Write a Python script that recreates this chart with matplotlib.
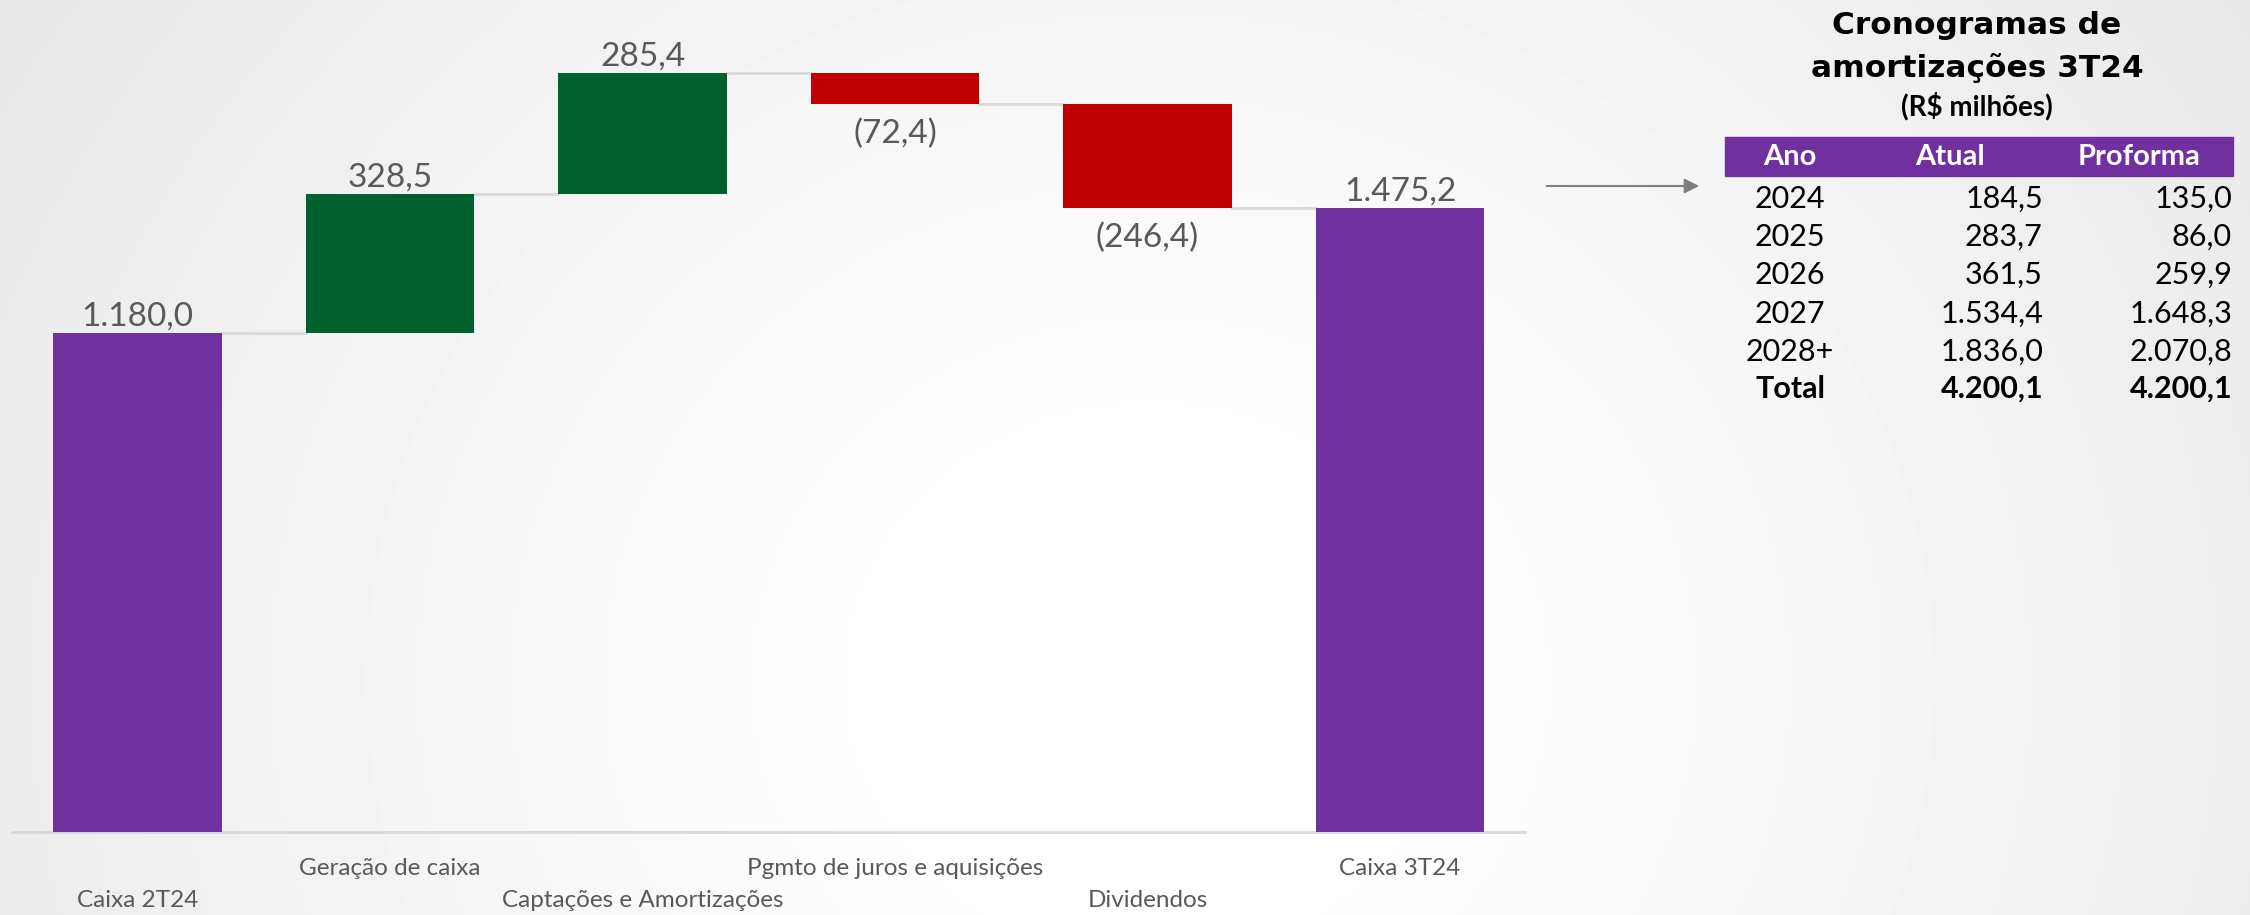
import numpy as np
import matplotlib
matplotlib.use('Agg')
import matplotlib.pyplot as plt
from matplotlib.patches import Rectangle, FancyArrowPatch

# Waterfall data (R$ milhões)
categories = ['Caixa 2T24', 'Geração de caixa', 'Captações e Amortizações',
              'Pgmto de juros e aquisições', 'Dividendos', 'Caixa 3T24']
values = [1180.0, 328.5, 285.4, -72.4, -246.4, 1475.2]
kinds = ['total', 'delta', 'delta', 'delta', 'delta', 'total']
value_labels = ['1.180,0', '328,5', '285,4', '(72,4)', '(246,4)', '1.475,2']

# Amortization schedule table
table_years = ['2024', '2025', '2026', '2027', '2028+', 'Total']
table_atual = ['184,5', '283,7', '361,5', '1.534,4', '1.836,0', '4.200,1']
table_proforma = ['135,0', '86,0', '259,9', '1.648,3', '2.070,8', '4.200,1']

PURPLE = '#7030A0'
GREEN = '#00612E'
RED = '#C00000'
GREY_TXT = '#595959'

plt.rcParams['font.family'] = ['Lato', 'DejaVu Sans']

W, H = 2250, 915
fig = plt.figure(figsize=(W / 100, H / 100), dpi=100)

# background: soft radial grey gradient
bg = fig.add_axes([0, 0, 1, 1], zorder=-10)
yy, xx = np.mgrid[0:H, 0:W]
d = np.hypot(xx - 1150, (yy - 680) * 1.1)
shade = np.clip(255 - 0.0209 * np.clip(d - 260, 0, None), 0, 255) / 255
bg.imshow(shade, cmap='gray', vmin=0, vmax=1, aspect='auto', extent=[0, W, H, 0])
bg.axis('off')


def fx(px):
    return px / W


def fy(py):
    return 1 - py / H


# waterfall axes
ax = fig.add_axes([fx(11.5), fy(832), fx(1525) - fx(11.5), fy(40) - fy(832)])
ax.patch.set_alpha(0)

bottoms, heights, colors, levels = [], [], [], []
running = 0.0
for v, k in zip(values, kinds):
    if k == 'total':
        bottoms.append(0)
        heights.append(v)
        colors.append(PURPLE)
        running = v
    else:
        if v >= 0:
            bottoms.append(running)
            colors.append(GREEN)
        else:
            bottoms.append(running + v)
            colors.append(RED)
        heights.append(abs(v))
        running += v
    levels.append(running)

x = np.arange(len(values))
bw = 0.669
ax.bar(x, heights, bottom=bottoms, width=bw, color=colors, zorder=3)

# connectors
for i in range(len(values) - 1):
    ax.plot([x[i] + bw / 2, x[i + 1] - bw / 2], [levels[i], levels[i]],
            color='#d9d9d9', lw=2, zorder=2)

# value labels
for i, (v, lab) in enumerate(zip(values, value_labels)):
    if v >= 0:
        ax.annotate(lab, (x[i], bottoms[i] + heights[i]), xytext=(0, 12),
                    textcoords='offset points', ha='center', va='center',
                    fontsize=24, color=GREY_TXT)
    else:
        ax.annotate(lab, (x[i], bottoms[i]), xytext=(0, -21.5),
                    textcoords='offset points', ha='center', va='center',
                    fontsize=24, color=GREY_TXT)

# staggered category labels
trans = ax.get_xaxis_transform()
for i, c in enumerate(categories):
    yoff = -0.0455 if i % 2 == 1 else -0.087
    ax.text(x[i], yoff, c, transform=trans, ha='center', va='center',
            fontsize=17.5, color=GREY_TXT)

ax.set_xlim(-0.499, 5.495)
ax.set_ylim(0, 1873)
for s in ['top', 'right', 'left']:
    ax.spines[s].set_visible(False)
ax.spines['bottom'].set_color('#d9d9d9')
ax.spines['bottom'].set_linewidth(2)
ax.set_xticks([])
ax.set_yticks([])

# table title
fig.text(fx(1977), fy(25), 'Cronogramas de', ha='center', va='center',
         fontsize=22.5, fontweight='bold', family='DejaVu Sans')
fig.text(fx(1977), fy(68), 'amortizações 3T24', ha='center', va='center',
         fontsize=22.5, fontweight='bold', family='DejaVu Sans')
fig.text(fx(1977), fy(106), '(R$ milhões)', ha='center', va='center',
         fontsize=20, fontweight='bold')

# header band
fig.patches.append(Rectangle((fx(1725), fy(176)), fx(2233) - fx(1725), fy(137) - fy(176),
                             transform=fig.transFigure, color=PURPLE, zorder=1))
fig.text(fx(1790), fy(157), 'Ano', ha='center', va='center', fontsize=21,
         fontweight='bold', color='white')
fig.text(fx(1950), fy(157), 'Atual', ha='center', va='center', fontsize=21,
         fontweight='bold', color='white')
fig.text(fx(2139), fy(157), 'Proforma', ha='center', va='center', fontsize=21,
         fontweight='bold', color='white')

row_y = [199, 237, 275, 314, 352, 389]
for i, (yr, a, p) in enumerate(zip(table_years, table_atual, table_proforma)):
    wt = 'bold' if yr == 'Total' else 'normal'
    fig.text(fx(1790), fy(row_y[i]), yr, ha='center', va='center', fontsize=22,
             fontweight=wt, color='black')
    fig.text(fx(2043), fy(row_y[i]), a, ha='right', va='center', fontsize=22,
             fontweight=wt, color='black')
    fig.text(fx(2232), fy(row_y[i]), p, ha='right', va='center', fontsize=22,
             fontweight=wt, color='black')

# arrow pointing to the table
fig.patches.append(FancyArrowPatch((fx(1544), fy(186)), (fx(1702), fy(186)),
                                   transform=fig.transFigure, arrowstyle='-|>',
                                   mutation_scale=22, color='#7f7f7f', lw=1.5))

fig.savefig('out.png', dpi=100)
